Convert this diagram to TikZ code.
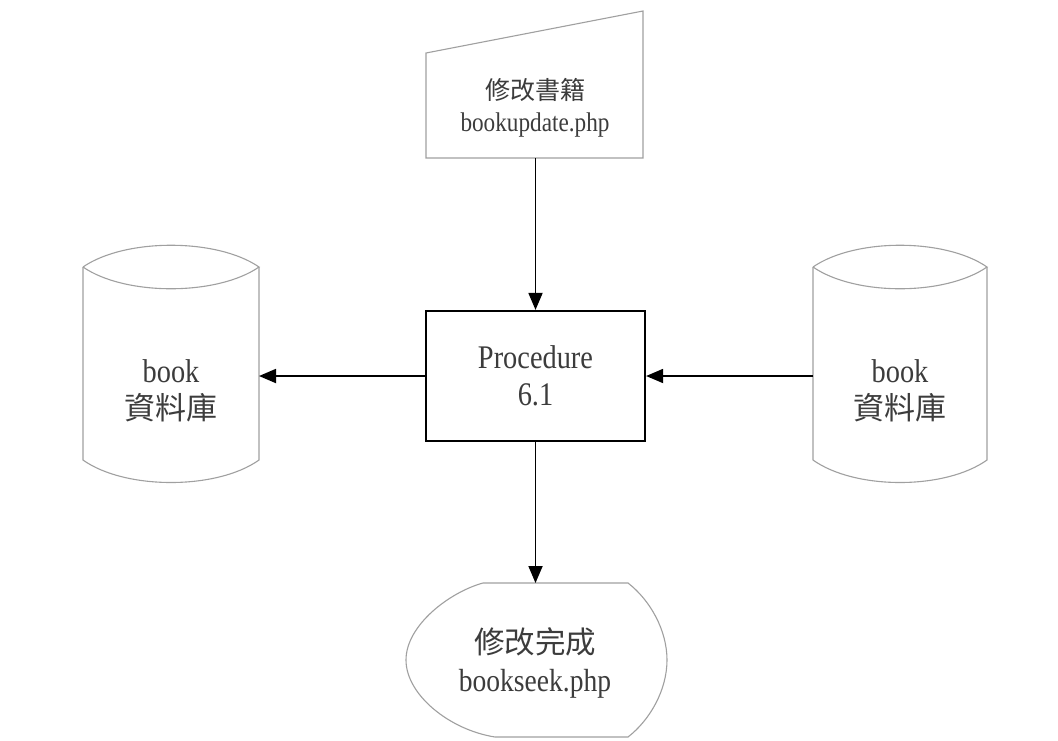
\documentclass[tikz,border=0pt]{standalone}
\usepackage{fontspec}
\setmainfont{Liberation Serif}[FakeStretch=0.86]
\newfontfamily\cjk{Noto Sans CJK TC}
\usetikzlibrary{arrows.meta}
\definecolor{txt}{RGB}{60,60,60}
\definecolor{outl}{RGB}{160,160,160}
\tikzset{
  shapeline/.style={draw=outl, line width=1.1pt},
  holder/.style={draw=none, inner sep=0pt, outer sep=0pt},
  label/.style={text=txt, align=center, inner sep=0pt, anchor=base},
  flow/.style={draw=black, line width=1.8pt, -{Triangle[length=17pt,width=14pt]}},
  procbox/.style={draw=black, line width=2.2pt, minimum width=219pt, minimum height=130pt, inner sep=0pt, text=txt, align=center,
    font=\fontsize{33}{37}\selectfont}
}
\begin{document}
\begin{tikzpicture}[x=1pt,y=-1pt]
\useasboundingbox[fill=white] (0,0) rectangle (1058,740);

% placeholder nodes giving the shapes' extents
\node[holder, minimum width=217pt, minimum height=147pt] (upd) at (534.5,84.5) {};
\node[holder, minimum width=176pt, minimum height=238pt] (dbL) at (171,364) {};
\node[holder, minimum width=174pt, minimum height=238pt] (dbR) at (900,364) {};
\node[holder, minimum width=261pt, minimum height=154pt] (out) at (536.5,660) {};

% manual input shape
\draw[shapeline] (426,158) -- (426,53) -- (643,11) -- (643,158) -- cycle;

% left cylinder
\draw[shapeline] (83,267) .. controls (125,238) and (217,238) .. (259,267)
  .. controls (217,296) and (125,296) .. (83,267);
\draw[shapeline] (83,267) -- (83,460) .. controls (125,490) and (217,490) .. (259,460) -- (259,267);

% right cylinder
\draw[shapeline] (813,267) .. controls (855,238) and (945,238) .. (987,267)
  .. controls (945,296) and (855,296) .. (813,267);
\draw[shapeline] (813,267) -- (813,460) .. controls (855,490) and (945,490) .. (987,460) -- (987,267);

% display shape
\draw[shapeline] (483,583) -- (628,583)
  .. controls (650,600) and (667,630) .. (667,660)
  .. controls (667,690) and (650,720) .. (628,737)
  -- (495,737)
  .. controls (450,730) and (406,695) .. (406,660)
  .. controls (406,625) and (450,592) .. (483,583);

% process box
\node[procbox] (proc) at (535.5,376) {Procedure\\6.1};

% labels (anchor=base is the baseline of the last line)
\node[label, font=\fontsize{27}{32}\selectfont] (updtxt) at (535,131)
  {{\cjk\fontsize{25}{32}\selectfont 修改書籍}\\bookupdate.php};
\node[label, font=\fontsize{33}{37}\selectfont] (dbLtxt) at (171,419)
  {book\\{\cjk\fontsize{31}{37}\selectfont 資料庫}};
\node[label, font=\fontsize{33}{37}\selectfont] (dbRtxt) at (900,419)
  {book\\{\cjk\fontsize{31}{37}\selectfont 資料庫}};
\node[label, font=\fontsize{32}{38}\selectfont] (outtxt) at (535,691)
  {{\cjk\fontsize{30.5}{38}\selectfont 修改完成}\\bookseek.php};

% connectors
\draw[flow] (proc.north |- upd.south) -- (proc.north);
\draw[flow] (proc.west) -- (proc.west -| dbL.east);
\draw[flow] (dbR.west |- proc.east) -- (proc.east);
\draw[flow] (proc.south) -- (proc.south |- out.north);
\end{tikzpicture}
\end{document}
